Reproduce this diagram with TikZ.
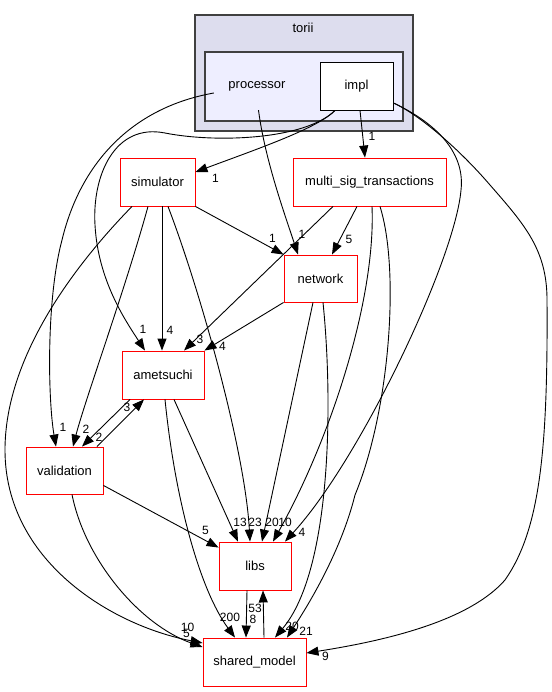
\documentclass[tikz,border=0pt]{standalone}
\usepackage{fontspec}
\setmainfont{Liberation Sans}
\usetikzlibrary{arrows.meta,positioning}

\definecolor{toriifill}{HTML}{DDDDEE}
\definecolor{procfill}{HTML}{EEEEFF}

\begin{document}
\begin{tikzpicture}[x=1pt,y=-1pt,>={Triangle[length=12pt,width=9pt]},
    dirbox/.style={draw=red,line width=0.9pt,minimum height=48pt,inner sep=0pt,font=\fontsize{13}{15}\selectfont},
    clusterbox/.style={draw=black!75,line width=1.2pt},
    dep/.style={->,line width=0.9pt},
    lbl/.style={font=\fontsize{12}{14}\selectfont,inner sep=0pt}]
    \useasboundingbox (0,0) rectangle (551,692);

    \draw[clusterbox,fill=toriifill] (195,15) rectangle (413,131);
    \node[font=\fontsize{13}{15}\selectfont] (torii) at (303,28) {torii};
    \draw[clusterbox,fill=procfill] (205,52) rectangle (403,121);
    \node[minimum width=86pt,minimum height=48pt,inner sep=0pt,font=\fontsize{13}{15}\selectfont] (processor) at (257,86) {processor};
    \node[draw,fill=white,line width=0.9pt,minimum width=73pt,minimum height=48pt,inner sep=0pt,font=\fontsize{13}{15}\selectfont] (impl) at (356.5,86) {impl};

    \node[dirbox,minimum width=75pt] (simulator) at (157.5,182) {simulator};
    \node[dirbox,minimum width=153pt] (multi) at (369.5,182) {multi\_sig\_transactions};
    \node[dirbox,minimum width=73pt,minimum height=47pt] (network) at (320.5,278.5) {network};
    \node[dirbox,minimum width=82pt] (ametsuchi) at (163,375) {ametsuchi};
    \node[dirbox,minimum width=77pt,minimum height=47pt] (validation) at (64.5,470.5) {validation};
    \node[dirbox,minimum width=72pt] (libs) at (255,566) {libs};
    \node[dirbox,minimum width=103pt] (shared) at (254.5,662) {shared\_model};

    \draw[dep] ([yshift=-7pt]processor.west) .. controls (130,108) and (80,165) .. (62,240) .. controls (46,300) and (48,400) .. ([xshift=-8.5pt]validation.north) node[lbl,pos=1,shift={(7,-19)}] {1};
    \draw[dep] ([xshift=1.5pt]processor.south) .. controls (265,160) and (285,215) .. ([xshift=-22.5pt]network.north) node[lbl,pos=1,shift={(4,-20)}] {1};

    \draw[dep] ([xshift=-21.5pt]impl.south) .. controls (318,128) and (260,148) .. ([yshift=10pt]simulator.east) node[lbl,pos=1,shift={(20,6)}] {1};
    \draw[dep] ([xshift=-21.5pt]impl.south) .. controls (305,140) and (215,143) .. (165,133) .. controls (115,123) and (92,175) .. (95,225) .. controls (98,280) and (125,320) .. ([xshift=-18pt]ametsuchi.north) node[lbl,pos=1,shift={(-2,-21)}] {1};
    \draw[dep] ([xshift=3.5pt]impl.south) -- ([xshift=-4.5pt]multi.north) node[lbl,pos=1,shift={(7,-21)}] {1};
    \draw[dep] ([yshift=-17pt]impl.east) .. controls (440,125) and (465,155) .. (461,190) .. controls (455,260) and (360,460) .. ([xshift=30pt]libs.north) node[lbl,pos=1,shift={(17,-9)}] {4};
    \draw[dep] ([yshift=-17pt]impl.east) .. controls (420,115) and (460,150) .. (490,185) .. controls (525,225) and (547,250) .. (547,300) .. controls (548,450) and (540,530) .. (505,580) .. controls (470,620) and (390,640) .. ([yshift=9pt]shared.east) node[lbl,pos=1,shift={(19,3)}] {9};

    \draw[dep] (simulator.south east) -- (network.north west) node[lbl,pos=1,shift={(-11,-16)}] {1};
    \draw[dep] ([xshift=4.5pt]simulator.south) -- ([xshift=-1pt]ametsuchi.north) node[lbl,pos=1,shift={(8,-20)}] {4};
    \draw[dep] ([xshift=-9.5pt]simulator.south) .. controls (125,290) and (85,400) .. ([xshift=8.5pt]validation.north) node[lbl,pos=1,shift={(13,-17)}] {2};
    \draw[dep] ([xshift=10.5pt]simulator.south) .. controls (200,290) and (245,450) .. ([xshift=-5pt]libs.north) node[lbl,pos=1,shift={(5,-19)}] {23};
    \draw[dep] ([xshift=-25.5pt]simulator.south) .. controls (70,270) and (5,360) .. (5,450) .. controls (5,560) and (110,625) .. ([yshift=19pt]shared.west) node[lbl,pos=1,shift={(-15,-16)}] {10};

    \draw[dep] ([xshift=-12.5pt]multi.south) -- ([xshift=11.5pt]network.north) node[lbl,pos=1,shift={(17,-15)}] {5};
    \draw[dep] ([xshift=-36.5pt]multi.south) -- ([xshift=21pt]ametsuchi.north) node[lbl,pos=1,shift={(16,-11)}] {3};
    \draw[dep] ([xshift=2.5pt]multi.south) .. controls (376,300) and (330,440) .. ([xshift=18pt]libs.north) node[lbl,pos=1,shift={(12,-19)}] {10};
    \draw[dep] ([xshift=10.5pt]multi.south) .. controls (400,270) and (390,410) .. (355,495) .. controls (340,555) and (305,610) .. ([xshift=32.5pt]shared.north) node[lbl,pos=1,shift={(19,-6)}] {21};

    \draw[dep] (network.south west) -- (ametsuchi.north east) node[lbl,pos=1,shift={(18,-4)}] {4};
    \draw[dep] ([xshift=-7.5pt]network.south) -- ([xshift=7pt]libs.north) node[lbl,pos=1,shift={(10,-19)}] {20};
    \draw[dep] ([xshift=2.5pt]network.south) .. controls (333,400) and (332,570) .. ([xshift=20.5pt]shared.north) node[lbl,pos=1,shift={(17,-11)}] {20};

    \draw[dep] ([xshift=-33pt]ametsuchi.south) -- ([xshift=17.5pt]validation.north) node[lbl,pos=1,shift={(17,-9)}] {2};
    \draw[dep] ([xshift=11pt]ametsuchi.south) -- ([xshift=-17pt]libs.north) node[lbl,pos=1,shift={(2,-19)}] {13};
    \draw[dep] ([xshift=2pt]ametsuchi.south) .. controls (175,500) and (200,590) .. ([xshift=-19.5pt]shared.north) node[lbl,pos=1,shift={(-5,-20)}] {200};

    \draw[dep] ([xshift=32.5pt]validation.north) -- ([xshift=-19pt]ametsuchi.south) node[lbl,pos=1,shift={(-17,8)}] {3};
    \draw[dep] ([yshift=9pt]validation.south east) -- ([yshift=-6pt]libs.north west) node[lbl,pos=1,shift={(-13,-17)}] {5};
    \draw[dep] ([xshift=7.5pt]validation.south) .. controls (85,560) and (140,625) .. ([yshift=15pt]shared.west) node[lbl,pos=1,shift={(-16,-14)}] {5};

    \draw[dep] ([xshift=-8pt]libs.south) -- ([xshift=-8.5pt]shared.north) node[lbl,pos=1,shift={(7,-18)}] {8};
    \draw[dep] ([xshift=9.5pt]shared.north) -- ([xshift=8pt]libs.south) node[lbl,pos=1,shift={(-8,18)}] {53};
\end{tikzpicture}
\end{document}
